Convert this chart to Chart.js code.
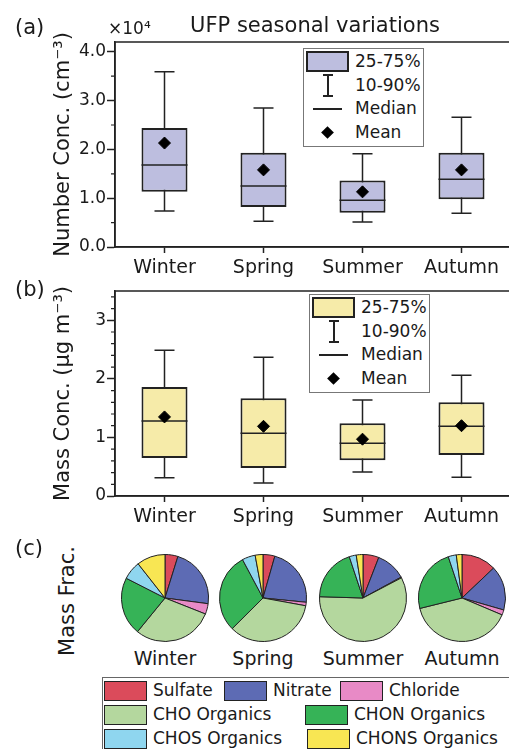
<!DOCTYPE html>
<html>
<head>
<meta charset="utf-8">
<script src="https://cdn.jsdelivr.net/npm/chart.js@4.4.1/dist/chart.umd.min.js"></script>
<style>
  body { margin: 0; overflow: hidden; background: #fff; }
  #page { position: relative; width: 509px; height: 749px; overflow: hidden; font-family: "DejaVu Sans", sans-serif; color: #1a1a1a; }
  #page canvas { position: absolute; }
  .t { position: absolute; white-space: nowrap; line-height: 1; }
  .lg { position: absolute; border: 1px solid #777; background: #fff; box-sizing: border-box; }
  .sw { position: absolute; box-sizing: border-box; border: 1.5px solid #222; }
</style>
</head>
<body>
<div id="page">
  <canvas id="boxA" width="530" height="290" style="left:0;top:0"></canvas>
  <canvas id="boxB" width="530" height="290" style="left:0;top:250px"></canvas>
  <canvas id="pie0" width="88" height="88" style="left:121px;top:554px"></canvas>
  <canvas id="pie1" width="88" height="88" style="left:219px;top:554px"></canvas>
  <canvas id="pie2" width="88" height="88" style="left:319px;top:554px"></canvas>
  <canvas id="pie3" width="88" height="88" style="left:418px;top:554px"></canvas>

  <div class="t" style="left:15px;top:17px;font-size:21px">(a)</div>
  <div class="t" style="left:108px;top:20px;font-size:17px">×10⁴</div>
  <div class="t" style="left:315px;top:15px;font-size:21px;transform:translateX(-50%)">UFP seasonal variations</div>
  <div class="t" style="left:15px;top:279px;font-size:21px">(b)</div>
  <div class="t" style="left:15px;top:538px;font-size:21px">(c)</div>
  <div class="t" style="left:67px;top:601px;font-size:21px;transform:translate(-50%,-50%) rotate(-90deg)">Mass Frac.</div>
</div>

<script>
// box plot statistics, panel (a): number concentration (x10^4 cm^-3)
var seasons = ["Winter", "Spring", "Summer", "Autumn"];
var ufpP10 = [0.74, 0.53, 0.51, 0.69];
var ufpQ1 = [1.13, 0.82, 0.70, 0.98];
var ufpMedian = [1.68, 1.25, 0.96, 1.39];
var ufpQ3 = [2.44, 1.93, 1.36, 1.93];
var ufpP90 = [3.59, 2.85, 1.91, 2.66];
var ufpMean = [2.13, 1.58, 1.13, 1.58];

// panel (b): mass concentration (ug m^-3)
var massP10 = [0.31, 0.22, 0.41, 0.32];
var massQ1 = [0.65, 0.48, 0.61, 0.70];
var massMedian = [1.28, 1.07, 0.90, 1.19];
var massQ3 = [1.86, 1.67, 1.24, 1.60];
var massP90 = [2.49, 2.37, 1.64, 2.06];
var massMean = [1.35, 1.19, 0.97, 1.20];

// panel (c): mass fractions (%)
var components = ["Sulfate", "Nitrate", "Chloride", "CHO Organics", "CHON Organics", "CHOS Organics", "CHONS Organics"];
var componentColors = ["#db4b5b", "#5d6bb4", "#e88ac6", "#b4d79e", "#36b357", "#8fd6ef", "#f8e653"];
var winterFrac = [4.8, 22.3, 3.9, 29.9, 21.6, 6.9, 10.6];
var springFrac = [4.4, 22.2, 1.3, 34.7, 29.7, 4.9, 2.9];
var summerFrac = [5.9, 11.1, 0.3, 58.1, 19.4, 2.6, 2.5];
var autumnFrac = [12.9, 16.5, 1.9, 39.7, 23.7, 3.0, 2.1];

var ink = "#222";

// whiskers behind the boxes, median lines on top of the boxes, frame + minor ticks
var boxParts = {
    id: "boxParts",
    beforeDatasetsDraw: function (chart, args, opts) {
        var ctx = chart.ctx, y = chart.scales.y;
        var bars = chart.getDatasetMeta(0).data;
        ctx.save();
        ctx.strokeStyle = ink;
        ctx.lineWidth = 1.5;
        bars.forEach(function (b, i) {
            var lo = y.getPixelForValue(opts.p10[i]), hi = y.getPixelForValue(opts.p90[i]);
            ctx.beginPath();
            ctx.moveTo(b.x, lo); ctx.lineTo(b.x, hi);
            ctx.moveTo(b.x - 10, lo); ctx.lineTo(b.x + 10, lo);
            ctx.moveTo(b.x - 10, hi); ctx.lineTo(b.x + 10, hi);
            ctx.stroke();
        });
        ctx.restore();
    },
    afterDatasetDraw: function (chart, args, opts) {
        if (args.index !== 0) return;
        var ctx = chart.ctx, y = chart.scales.y;
        ctx.save();
        ctx.strokeStyle = ink;
        ctx.lineWidth = 1.5;
        args.meta.data.forEach(function (b, i) {
            var py = y.getPixelForValue(opts.median[i]);
            ctx.beginPath();
            ctx.moveTo(b.x - b.width / 2, py); ctx.lineTo(b.x + b.width / 2, py);
            ctx.stroke();
        });
        ctx.restore();
    },
    afterDraw: function (chart, args, opts) {
        var ctx = chart.ctx, a = chart.chartArea, y = chart.scales.y;
        ctx.save();
        ctx.strokeStyle = ink;
        ctx.lineWidth = 1.5;
        ctx.strokeRect(a.left, a.top, a.right - a.left, a.bottom - a.top);
        ctx.lineWidth = 1.2;
        ctx.beginPath();
        for (var k = 1; k * opts.minor <= y.max + 1e-9; k++) {
            var v = k * opts.minor;
            if (Math.abs(v - Math.round(v)) < 1e-6) continue;
            var py = y.getPixelForValue(v);
            ctx.moveTo(a.left - 4, py); ctx.lineTo(a.left, py);
        }
        ctx.stroke();
        ctx.restore();
    }
};

function boxChart(id, q1, q3, median, p10, p90, mean, fill, yMax, minor, yTitle, fmt, topPad) {
    var boxes = q1.map(function (v, i) { return [v, q3[i]]; });
    return new Chart(id, {
        type: "bar",
        data: {
            labels: seasons,
            datasets: [{
                data: boxes,
                backgroundColor: fill,
                borderColor: ink,
                borderWidth: 2,
                borderSkipped: false,
                barPercentage: 0.465,
                categoryPercentage: 1,
                order: 1
            }, {
                type: "line",
                data: mean,
                showLine: false,
                pointStyle: "rectRot",
                pointRadius: 6,
                pointBackgroundColor: "#000",
                pointBorderColor: "#000",
                order: 0
            }]
        },
        options: {
            responsive: false,
            animation: false,
            layout: { padding: { left: 0, top: topPad, right: 19, bottom: 0 } },
            plugins: {
                legend: { display: false },
                tooltip: { enabled: false },
                boxParts: { p10: p10, p90: p90, median: median, minor: minor }
            },
            scales: {
                x: {
                    offset: true,
                    grid: { offset: false, drawOnChartArea: false, tickLength: 6, tickColor: ink, tickWidth: 1.5 },
                    border: { color: ink, width: 1.5 },
                    ticks: { color: "#1a1a1a", padding: 4, font: { family: "DejaVu Sans", size: 19 } },
                    afterFit: function (s) { s.height = 290 - topPad - 205; }
                },
                y: {
                    min: 0,
                    max: yMax,
                    grid: { drawOnChartArea: false, tickLength: 8, tickColor: ink, tickWidth: 1.5 },
                    border: { color: ink, width: 1.5 },
                    ticks: {
                        stepSize: 1,
                        includeBounds: false,
                        padding: 1,
                        color: "#1a1a1a",
                        font: { family: "DejaVu Sans", size: 17 },
                        callback: fmt
                    },
                    title: {
                        display: true,
                        text: yTitle,
                        color: "#1a1a1a",
                        padding: { top: 51, bottom: 0 },
                        font: { family: "DejaVu Sans", size: 21 }
                    },
                    afterFit: function (s) { s.width = 115; }
                }
            }
        },
        plugins: [boxParts]
    });
}

boxChart("boxA", ufpQ1, ufpQ3, ufpMedian, ufpP10, ufpP90, ufpMean, "#bdbedf", 4.2, 0.5,
    "Number Conc. (cm⁻³)", function (v) { return v.toFixed(1); }, 42);
boxChart("boxB", massQ1, massQ3, massMedian, massP10, massP90, massMean, "#f6eba9", 3.5, 0.2,
    "Mass Conc. (μg m⁻³)", function (v) { return String(v); }, 41);

// pies
var pieData = [winterFrac, springFrac, summerFrac, autumnFrac];
pieData.forEach(function (frac, i) {
    new Chart("pie" + i, {
        type: "pie",
        data: {
            labels: components,
            datasets: [{ data: frac, backgroundColor: componentColors, borderColor: ink, borderWidth: 1 }]
        },
        options: {
            responsive: false,
            animation: false,
            plugins: { legend: { display: false }, tooltip: { enabled: false } }
        }
    });
});

var page = document.getElementById("page");
function addText(txt, left, top, size, center) {
    var d = document.createElement("div");
    d.className = "t";
    d.textContent = txt;
    d.style.left = left + "px";
    d.style.top = top + "px";
    d.style.fontSize = size + "px";
    if (center) d.style.transform = "translateX(-50%)";
    page.appendChild(d);
    return d;
}
function addBox(left, top, w, h, css) {
    var d = document.createElement("div");
    d.style.position = "absolute";
    d.style.left = left + "px";
    d.style.top = top + "px";
    d.style.width = w + "px";
    d.style.height = h + "px";
    d.style.boxSizing = "border-box";
    Object.assign(d.style, css || {});
    page.appendChild(d);
    return d;
}

// season names under the pies
var pieCenters = [165, 263, 363, 462];
seasons.forEach(function (s, i) { addText(s, pieCenters[i], 649, 19, true); });

// box plot legends
function boxLegend(left, top, fill) {
    addBox(left, top, 121, 99, { border: "1px solid #777", background: "#fff" });
    addBox(left + 3, top + 3, 43, 21, { border: "2px solid " + ink, background: fill });
    addBox(left + 24, top + 27, 1.5, 21, { background: ink });
    addBox(left + 20, top + 26, 10, 1.5, { background: ink });
    addBox(left + 20, top + 47, 10, 1.5, { background: ink });
    addBox(left + 10, top + 60, 29, 1.5, { background: ink });
    addBox(left + 20, top + 80, 9, 9, { background: "#000", transform: "rotate(45deg)" });
    var labels = ["25-75%", "10-90%", "Median", "Mean"];
    var rows = [14, 38, 61, 85];
    labels.forEach(function (l, i) { addText(l, left + 52, top + rows[i] - 9, 17); });
}
boxLegend(303, 48, "#bdbedf");
boxLegend(309, 294, "#f6eba9");

// component legend
addBox(102, 677, 420, 80, { border: "1px solid #666", background: "#fff" });
var legendSlots = [[104, 691], [224, 691], [340, 691], [104, 715], [305, 715], [104, 739], [307, 739]];
components.forEach(function (c, i) {
    var s = legendSlots[i];
    addBox(s[0], s[1] - 10, 43, 20, { border: "1.5px solid " + ink, background: componentColors[i] });
    addText(c, s[0] + 49, s[1] - 9, 17);
});
</script>
</body>
</html>
